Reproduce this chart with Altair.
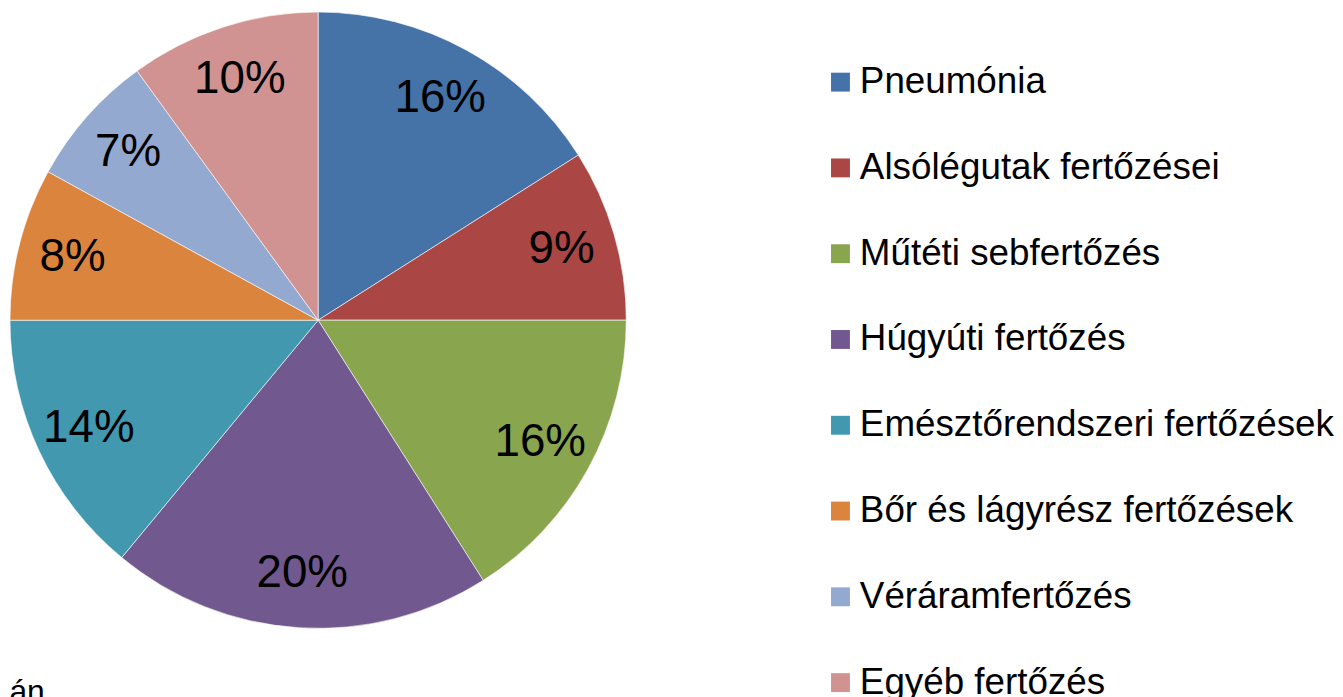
import altair as alt
import pandas as pd

categories = [
    "Pneumónia",
    "Alsólégutak fertőzései",
    "Műtéti sebfertőzés",
    "Húgyúti fertőzés",
    "Emésztőrendszeri fertőzések",
    "Bőr és lágyrész fertőzések",
    "Véráramfertőzés",
    "Egyéb fertőzés",
]
values = [16, 9, 16, 20, 14, 8, 7, 10]
colors = ["#4572A7", "#AA4643", "#89A54E", "#71588F", "#4198AF", "#DB843D", "#93A9CF", "#D19392"]
notes = ["ján"]

df = pd.DataFrame({
    "category": categories,
    "value": values,
    "idx": list(range(len(categories))),
    "label": [f"{v}%" for v in values],
})

FONT = "Liberation Sans"

color = alt.Color(
    "category:N",
    sort=categories,
    scale=alt.Scale(domain=categories, range=colors),
    legend=alt.Legend(
        title=None,
        orient="none",
        legendX=819,
        legendY=54,
        padding=0,
        symbolType="square",
        symbolSize=361,
        symbolStrokeWidth=0,
        labelFont=FONT,
        labelFontSize=37,
        labelColor="#000000",
        labelOffset=1,
        labelLimit=1000,
        rowPadding=48.3,
    ),
)

base = alt.Chart(df).encode(
    theta=alt.Theta("value:Q", stack=True),
    order=alt.Order("idx:Q"),
)

pie = base.mark_arc(outerRadius=310, stroke="#ffffff", strokeWidth=0.6).encode(color=color)

labels = base.mark_text(
    radius=255, font=FONT, fontSize=46, color="#000000", baseline="middle", align="center"
).encode(text="label:N")

note = alt.Chart(pd.DataFrame({"t": notes})).mark_text(
    font=FONT, fontSize=32, color="#000000", align="right", baseline="alphabetic"
).encode(text="t:N", x=alt.value(37), y=alt.value(696))

chart = (
    alt.layer(pie, labels, note)
    .properties(
        width=624,
        height=624,
        padding={"left": 0, "top": 0, "right": 711, "bottom": 65},
        autosize=alt.AutoSizeParams(type="none"),
    )
    .configure_view(strokeWidth=0)
)

chart.save("out.html", embed_options={"renderer": "svg", "actions": False})
